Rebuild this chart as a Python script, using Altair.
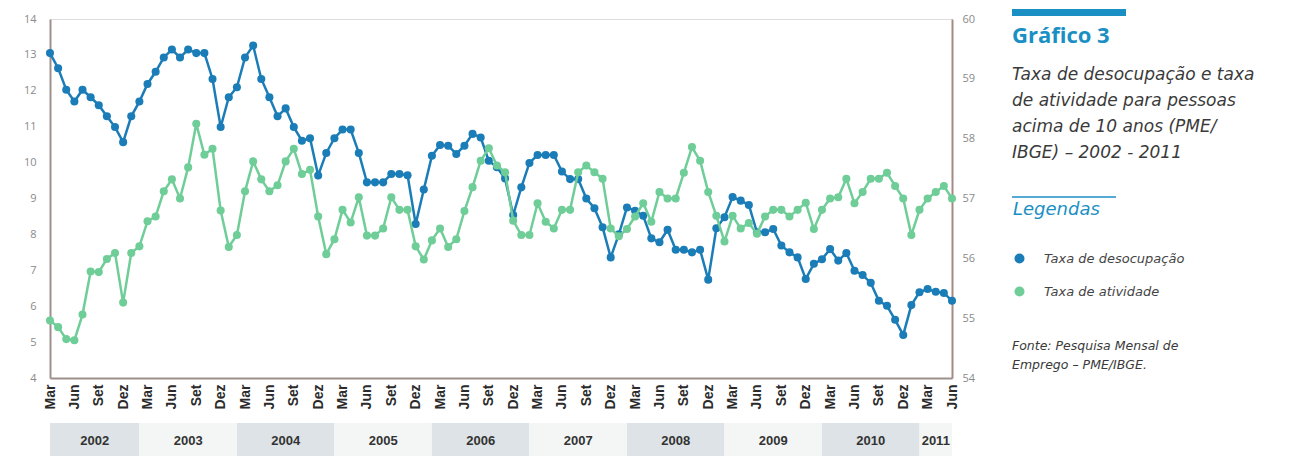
import altair as alt
import pandas as pd

# ---- data ----
month_names = ["Mar", "Jun", "Set", "Dez"]
years = [2002, 2003, 2004, 2005, 2006, 2007, 2008, 2009, 2010, 2011]

# Taxa de desocupação (%), monthly Mar/2002 .. Jun/2011 (left axis)
desocupacao = [
    13.05, 12.63, 12.03, 11.70, 12.03, 11.82, 11.60, 11.29, 10.99, 10.57,
    11.29, 11.70, 12.19, 12.53, 12.93, 13.15, 12.93, 13.15, 13.05, 13.05, 12.33, 10.99,
    11.82, 12.10, 12.93, 13.26, 12.33, 11.82, 11.29, 11.51, 10.99, 10.61, 10.68, 9.64,
    10.27, 10.68, 10.92, 10.92, 10.27, 9.45, 9.45, 9.45, 9.68, 9.68, 9.65, 8.29,
    9.25, 10.19, 10.49, 10.47, 10.24, 10.47, 10.80, 10.70, 10.05, 9.87, 9.56, 8.54,
    9.31, 9.99, 10.21, 10.21, 10.21, 9.75, 9.54, 9.54, 9.00, 8.73, 8.20, 7.36,
    8.00, 8.75, 8.66, 8.52, 7.89, 7.78, 8.13, 7.57, 7.57, 7.50, 7.57, 6.74,
    8.17, 8.48, 9.04, 8.94, 8.82, 8.06, 8.06, 8.15, 7.69, 7.50, 7.36, 6.76,
    7.18, 7.31, 7.59, 7.27, 7.48, 6.99, 6.87, 6.65, 6.15, 6.01, 5.62, 5.20,
    6.03, 6.39, 6.48, 6.40, 6.37, 6.15,
]

# Taxa de atividade (%), same months (right axis)
atividade = [
    54.96, 54.85, 54.65, 54.63, 55.06, 55.78, 55.77, 55.99, 56.09, 55.26,
    56.09, 56.20, 56.62, 56.70, 57.12, 57.32, 57.00, 57.52, 58.25, 57.73, 57.83, 56.80,
    56.19, 56.39, 57.12, 57.62, 57.32, 57.12, 57.22, 57.62, 57.83, 57.41, 57.48, 56.70,
    56.07, 56.32, 56.81, 56.60, 57.02, 56.38, 56.38, 56.50, 57.02, 56.81, 56.81, 56.20,
    55.98, 56.30, 56.50, 56.19, 56.32, 56.79, 57.19, 57.63, 57.84, 57.55, 57.44, 56.63,
    56.39, 56.39, 56.92, 56.61, 56.50, 56.81, 56.81, 57.44, 57.55, 57.44, 57.33, 56.50,
    56.37, 56.49, 56.70, 56.92, 56.61, 57.11, 57.00, 57.00, 57.43, 57.86, 57.63, 57.11,
    56.71, 56.28, 56.71, 56.50, 56.59, 56.41, 56.70, 56.81, 56.81, 56.70, 56.81, 56.93,
    56.49, 56.81, 57.00, 57.02, 57.33, 56.92, 57.11, 57.33, 57.33, 57.43, 57.21, 57.00,
    56.39, 56.81, 57.00, 57.11, 57.21, 57.00,
]

series_names = ["Taxa de desocupação", "Taxa de atividade"]
series_colors = ["#1b7db7", "#6fcd98"]

title_text = "Gráfico 3"
subtitle_lines = [
    "Taxa de desocupação e taxa",
    "de atividade para pessoas",
    "acima de 10 anos (PME/",
    "IBGE) – 2002 - 2011",
]
legend_title = "Legendas"
source_lines = ["Fonte: Pesquisa Mensal de", "Emprego – PME/IBGE."]

# ---- tables ----
n = len(desocupacao)
last = n - 1
df_u = pd.DataFrame({"i": range(n), "v": desocupacao, "serie": series_names[0]})
df_a = pd.DataFrame({"i": range(n), "v": atividade, "serie": series_names[1]})

band_rows = []
for k, y in enumerate(years):
    jan = (y - 2002) * 12 - 2
    nxt = jan + 12
    s = max(0, jan + 1)
    e = min(last, nxt + 1)
    band_rows.append({"year": str(y), "s": s, "e": e, "m": (s + e) / 2, "shade": k % 2})
df_b = pd.DataFrame(band_rows)

W, H = 902, 359
BLUE_T = "#1a8fc4"
FONT = "Open Sans"
WIDE = "DejaVu Sans"
NARROW = "Liberation Sans Narrow, Liberation Sans, Arial"

xscale = alt.Scale(domain=[0, last], nice=False, zero=False)
label_expr = "[" + ",".join(f"'{m}'" for m in month_names) + "][(datum.value/3)%4]"

x_axis = alt.Axis(
    values=list(range(0, n, 3)), labelExpr=label_expr, labelAngle=270,
    labelFontWeight="bold", labelFontSize=14, labelColor="#2b2b2b", labelFont=NARROW,
    ticks=False, labelPadding=6, labelFlush=False, labelOverlap=False, labelBound=False,
    domainColor="#9c8f8c", domainWidth=2, grid=False, title=None,
)

color_scale = alt.Scale(domain=series_names, range=series_colors)
legend = alt.Legend(
    orient="none", legendX=963, legendY=182, title=legend_title,
    titleFont=WIDE, titleFontSize=18, titleFontStyle="italic", titleFontWeight="normal",
    titleColor=BLUE_T, titlePadding=33, symbolType="circle", symbolSize=100,
    labelFont=WIDE, labelFontSize=13, labelFontStyle="italic", labelColor="#444444",
    labelOffset=18, rowPadding=19, padding=0,
)

left_axis = alt.Axis(orient="left", values=list(range(4, 15)), format="d", ticks=False, grid=False,
                     labelPadding=14, labelColor="#8a8a8a", labelFontSize=11, labelFont=FONT,
                     labelOverlap=False, domainColor="#9c8f8c", domainWidth=2, title=None)
right_axis = alt.Axis(orient="right", values=list(range(54, 61)), format="d", ticks=False, grid=False,
                      labelPadding=10, labelColor="#8a8a8a", labelFontSize=11, labelFont=FONT,
                      labelOverlap=False, domainColor="#a48a84", domainWidth=2, title=None)

base_u = alt.Chart(df_u)
line_u = base_u.mark_line(strokeWidth=2.5, color=series_colors[0]).encode(
    x=alt.X("i:Q", scale=xscale, axis=x_axis),
    y=alt.Y("v:Q", scale=alt.Scale(domain=[4, 14], nice=False, zero=False), axis=left_axis),
)
pts_u = base_u.mark_point(filled=True, size=65, opacity=1).encode(
    x=alt.X("i:Q", scale=xscale, axis=x_axis),
    y=alt.Y("v:Q", axis=left_axis),
    color=alt.Color("serie:N", scale=color_scale, legend=legend),
)
layer_u = alt.layer(line_u, pts_u)

base_a = alt.Chart(df_a)
line_a = base_a.mark_line(strokeWidth=2.5, color=series_colors[1]).encode(
    x=alt.X("i:Q", scale=xscale, axis=x_axis),
    y=alt.Y("v:Q", scale=alt.Scale(domain=[54, 60], nice=False, zero=False), axis=right_axis),
)
pts_a = base_a.mark_point(filled=True, size=65, opacity=1).encode(
    x=alt.X("i:Q", scale=xscale, axis=x_axis),
    y=alt.Y("v:Q", axis=right_axis),
    color=alt.Color("serie:N", scale=color_scale, legend=legend),
)
layer_a = alt.layer(line_a, pts_a)

bands = alt.Chart(df_b).mark_rect().encode(
    x=alt.X("s:Q", scale=xscale, axis=x_axis),
    x2="e:Q",
    y=alt.value(404),
    y2=alt.value(440),
    fill=alt.Fill("shade:N", scale=alt.Scale(domain=[0, 1], range=["#dde3e6", "#f4f6f6"]), legend=None),
)
year_text = alt.Chart(df_b).mark_text(fontWeight="bold", fontSize=13, color="#333333", font=NARROW).encode(
    x=alt.X("m:Q", scale=xscale, axis=x_axis),
    y=alt.value(422),
    text="year:N",
)

one = alt.Data(values=[{}])
bar = alt.Chart(one).mark_rect(color=BLUE_T).encode(
    x=alt.value(962), x2=alt.value(1076), y=alt.value(-10), y2=alt.value(-3))
title_mark = alt.Chart(one).mark_text(
    align="left", baseline="middle", fontSize=22, fontWeight="bold", color=BLUE_T, font=FONT
).encode(x=alt.value(962), y=alt.value(17), text=alt.value(title_text))
subtitle_mark = alt.Chart(one).mark_text(
    align="left", baseline="top", fontSize=17, fontStyle="italic", color="#3a3a3a",
    font=WIDE, lineHeight=26
).encode(x=alt.value(962), y=alt.value(48), text=alt.value(subtitle_lines))
rule_leg = alt.Chart(one).mark_rule(color=BLUE_T, strokeWidth=1.5).encode(
    x=alt.value(962), x2=alt.value(1066), y=alt.value(178))
source_mark = alt.Chart(one).mark_text(
    align="left", baseline="top", fontSize=12.5, fontStyle="italic", color="#3a3a3a",
    font=WIDE, lineHeight=19
).encode(x=alt.value(962), y=alt.value(321), text=alt.value(source_lines))

chart = alt.layer(
    bands, year_text, layer_u, layer_a, bar, title_mark, subtitle_mark, rule_leg, source_mark
).resolve_scale(y="independent").properties(
    width=W, height=H,
    autosize=alt.AutoSizeParams(type="none"),
    padding={"left": 42, "top": 11, "right": 330, "bottom": 78},
).configure_view(strokeWidth=0).configure_axisX(labelOverlap=False).configure_axisY(
    labelOverlap=False
).configure(background="white")

chart.save("out.html", embed_options={"renderer": "svg", "actions": False})
